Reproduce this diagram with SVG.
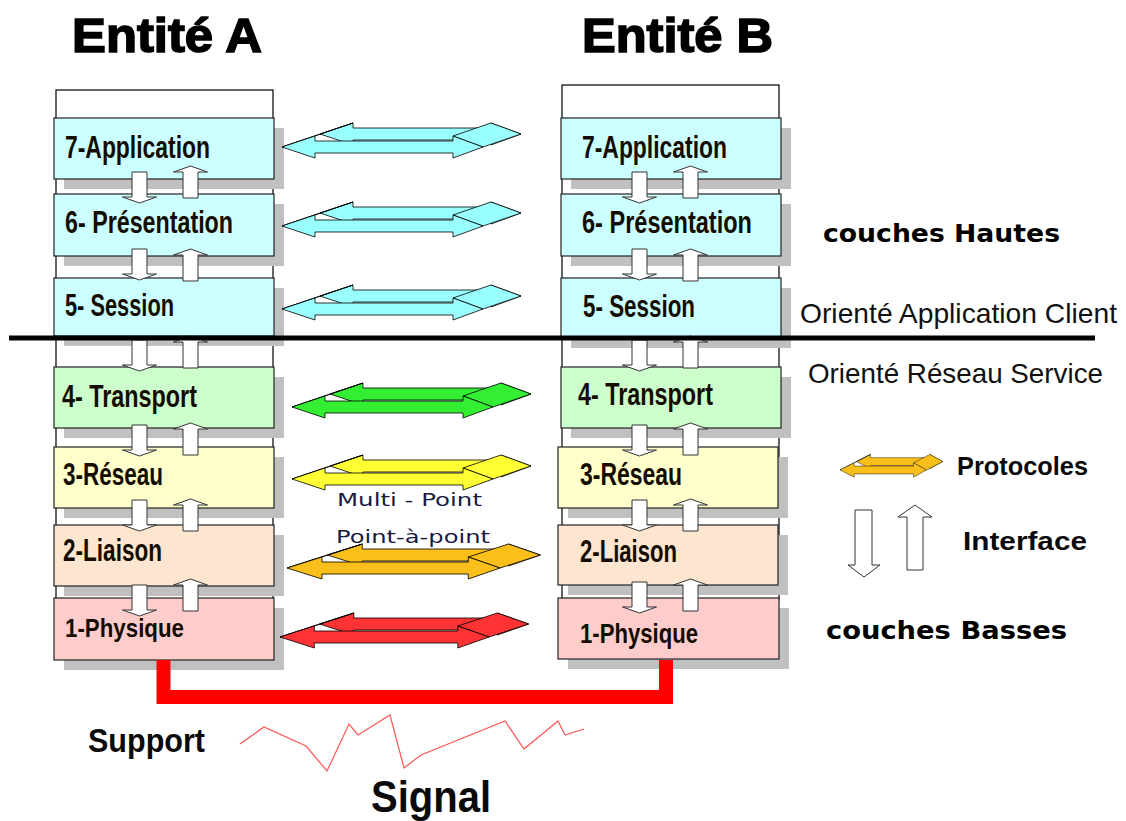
<svg xmlns="http://www.w3.org/2000/svg" xmlns:xlink="http://www.w3.org/1999/xlink" width="1126" height="821" viewBox="0 0 1126 821">
<style>
.frame{fill:#fff;stroke:#000;stroke-width:1.2}
.shadow{fill:#c0c0c0}
.box{stroke:#222;stroke-width:1.2}
.lbl{font-family:"Liberation Sans",Arial,sans-serif;font-weight:bold;font-size:31px;fill:#140c00}
.title{font-family:"Liberation Sans",Arial,sans-serif;font-weight:bold;font-size:48px;fill:#000;stroke:#000;stroke-width:1.6}
.bigb{font-family:"DejaVu Sans",Verdana,sans-serif;font-weight:bold;font-size:25px;fill:#000}
.medb{font-family:"Liberation Sans",Arial,sans-serif;font-weight:bold;font-size:26px;fill:#0a0a0a}
.reg{font-family:"Liberation Sans",Arial,sans-serif;font-size:28px;fill:#111}
.small{font-family:"DejaVu Sans",Verdana,sans-serif;font-size:17px;fill:#1a1a40}
.iface{fill:#fff;stroke:#333;stroke-width:1}
</style>
<defs>
<g id="parr" stroke="#000" stroke-width="0.8" stroke-linejoin="round">
<polygon points="38,-13 71,-24 71,-19 209,-19 209,-24 239,-13 209,-2 209,-7 71,-7 71,-2"/>
<polygon points="0,0 38,-13 71,-24 33,-11"/>
<polygon points="171,-11 209,-24 239,-13 201,0"/>
<polygon points="0,0 33,-11 33,-6 171,-6 171,-11 201,0 171,11 171,6 33,6 33,11"/>
</g>
<path id="down" class="iface" d="M-7.5,0 H7.5 V25 H17 L0,31 L-17,25 H-7.5 Z"/>
<path id="up" class="iface" d="M0,0 L17,6 H7.5 V32 H-7.5 V6 H-17 Z"/>
</defs>

<rect width="1126" height="821" fill="#fff"/>

<g id="title-a"><text class="title" x="72" y="52" textLength="190" lengthAdjust="spacingAndGlyphs">Entité A</text></g>
<g id="title-b"><text class="title" x="582" y="52" textLength="191" lengthAdjust="spacingAndGlyphs">Entité B</text></g>

<g id="stack-a">
<rect class="frame" x="56" y="90" width="217" height="510"/>
<g id="a7"><rect class="shadow" x="64" y="128" width="220" height="61"/><rect class="box" x="54" y="118" width="220" height="61" fill="#ccffff"/><text class="lbl" x="65" y="158" textLength="145" lengthAdjust="spacingAndGlyphs">7-Application</text></g>
<g id="a6"><rect class="shadow" x="64" y="204" width="220" height="62"/><rect class="box" x="54" y="194" width="220" height="62" fill="#ccffff"/><text class="lbl" x="65" y="233" textLength="168" lengthAdjust="spacingAndGlyphs">6- Présentation</text></g>
<g id="a5"><rect class="shadow" x="64" y="288" width="220" height="58"/><rect class="box" x="54" y="278" width="220" height="58" fill="#ccffff"/><text class="lbl" x="65" y="316" textLength="109" lengthAdjust="spacingAndGlyphs">5- Session</text></g>
<g id="a4"><rect class="shadow" x="64" y="377" width="220" height="61"/><rect class="box" x="54" y="367" width="220" height="61" fill="#ccffcc"/><text class="lbl" x="62" y="407" textLength="135" lengthAdjust="spacingAndGlyphs">4- Transport</text></g>
<g id="a3"><rect class="shadow" x="64" y="457" width="220" height="61"/><rect class="box" x="54" y="447" width="220" height="61" fill="#ffffcc"/><text class="lbl" x="63" y="485" textLength="100" lengthAdjust="spacingAndGlyphs">3-Réseau</text></g>
<g id="a2"><rect class="shadow" x="64" y="535" width="220" height="61"/><rect class="box" x="54" y="525" width="220" height="61" fill="#fde5cf"/><text class="lbl" x="63" y="561" textLength="99" lengthAdjust="spacingAndGlyphs">2-Liaison</text></g>
<g id="a1"><rect class="shadow" x="64" y="608" width="220" height="62"/><rect class="box" x="54" y="598" width="220" height="62" fill="#ffcccc"/><text class="lbl" x="65" y="637" style="font-size:26px" textLength="119" lengthAdjust="spacingAndGlyphs">1-Physique</text></g>
</g>

<g id="stack-b">
<rect class="frame" x="562" y="85" width="217" height="515"/>
<g id="b7"><rect class="shadow" x="571" y="128" width="220" height="61"/><rect class="box" x="561" y="118" width="220" height="61" fill="#ccffff"/><text class="lbl" x="582" y="158" textLength="145" lengthAdjust="spacingAndGlyphs">7-Application</text></g>
<g id="b6"><rect class="shadow" x="571" y="204" width="220" height="62"/><rect class="box" x="561" y="194" width="220" height="62" fill="#ccffff"/><text class="lbl" x="582" y="233" textLength="170" lengthAdjust="spacingAndGlyphs">6- Présentation</text></g>
<g id="b5"><rect class="shadow" x="571" y="288" width="220" height="60"/><rect class="box" x="561" y="278" width="220" height="60" fill="#ccffff"/><text class="lbl" x="583" y="317" textLength="112" lengthAdjust="spacingAndGlyphs">5- Session</text></g>
<g id="b4"><rect class="shadow" x="571" y="377" width="220" height="61"/><rect class="box" x="561" y="367" width="220" height="61" fill="#ccffcc"/><text class="lbl" x="578" y="405" textLength="135" lengthAdjust="spacingAndGlyphs">4- Transport</text></g>
<g id="b3"><rect class="shadow" x="568" y="457" width="220" height="61"/><rect class="box" x="558" y="447" width="220" height="61" fill="#ffffcc"/><text class="lbl" x="580" y="485" textLength="102" lengthAdjust="spacingAndGlyphs">3-Réseau</text></g>
<g id="b2"><rect class="shadow" x="568" y="535" width="220" height="60"/><rect class="box" x="558" y="525" width="220" height="60" fill="#fde5cf"/><text class="lbl" x="580" y="562" textLength="97" lengthAdjust="spacingAndGlyphs">2-Liaison</text></g>
<g id="b1"><rect class="shadow" x="568" y="608" width="221" height="61"/><rect class="box" x="558" y="598" width="221" height="61" fill="#ffcccc"/><text class="lbl" x="580" y="643" style="font-size:27px" textLength="118" lengthAdjust="spacingAndGlyphs">1-Physique</text></g>
</g>

<g id="connectors">
<g id="interfaces-a">
<use xlink:href="#down" x="139.5" y="172"/><use xlink:href="#up" x="190.5" y="166"/>
<use xlink:href="#down" x="139.5" y="249"/><use xlink:href="#up" x="190.5" y="249"/>
<use xlink:href="#down" x="139.5" y="340"/><use xlink:href="#up" x="190.5" y="336"/>
<use xlink:href="#down" x="139.5" y="425"/><use xlink:href="#up" x="190.5" y="423"/>
<use xlink:href="#down" x="139.5" y="500"/><use xlink:href="#up" x="190.5" y="499"/>
<use xlink:href="#down" x="139.5" y="585"/><use xlink:href="#up" x="190.5" y="579"/>
</g>
<g id="interfaces-b">
<use xlink:href="#down" x="639.5" y="172"/><use xlink:href="#up" x="690.5" y="166"/>
<use xlink:href="#down" x="639.5" y="249"/><use xlink:href="#up" x="690.5" y="249"/>
<use xlink:href="#down" x="639.5" y="340"/><use xlink:href="#up" x="690.5" y="336"/>
<use xlink:href="#down" x="639.5" y="425"/><use xlink:href="#up" x="690.5" y="423"/>
<use xlink:href="#down" x="639.5" y="500"/><use xlink:href="#up" x="690.5" y="499"/>
<use xlink:href="#down" x="639.5" y="582"/><use xlink:href="#up" x="690.5" y="579"/>
</g>
<g id="protocols">
<use xlink:href="#parr" transform="translate(282,147)" fill="#99ffff"/>
<use xlink:href="#parr" transform="translate(282,226)" fill="#99ffff"/>
<use xlink:href="#parr" transform="translate(282,309)" fill="#99ffff"/>
<use xlink:href="#parr" transform="translate(292,407)" fill="#33ee33"/>
<use xlink:href="#parr" transform="translate(292,479)" fill="#ffff33"/>
<use xlink:href="#parr" transform="translate(287,568) scale(1.06,1)" fill="#fbbf1c"/>
<use xlink:href="#parr" transform="translate(280,637) scale(1.04,1)" fill="#ff3333"/>
</g>
<path id="support" d="M163.5,660 V697 H666 V660" fill="none" stroke="#ff0000" stroke-width="14"/>
<polyline id="signal" points="240,744 264,727 306,746 327,771 349,724 358,735 390,715 404,768 421,755 505,721 524,749 558,721 565,735 584,729" fill="none" stroke="#ff5555" stroke-width="1.2"/>
</g>

<line id="separator" x1="9" y1="338" x2="1095" y2="338" stroke="#000" stroke-width="5"/>

<g id="labels">
<text class="small" x="337" y="506" textLength="145" lengthAdjust="spacingAndGlyphs">Multi - Point</text>
<text class="small" x="336" y="543" textLength="154" lengthAdjust="spacingAndGlyphs">Point-à-point</text>
<text class="bigb" x="823" y="242" textLength="237" lengthAdjust="spacingAndGlyphs">couches Hautes</text>
<text class="reg" x="800" y="323" textLength="317" lengthAdjust="spacingAndGlyphs">Orienté Application Client</text>
<text class="reg" x="808" y="383" textLength="295" lengthAdjust="spacingAndGlyphs">Orienté Réseau Service</text>
<text class="bigb" x="826" y="639" textLength="241" lengthAdjust="spacingAndGlyphs">couches Basses</text>
<text class="medb" x="88" y="752" style="font-size:33px" textLength="117" lengthAdjust="spacingAndGlyphs">Support</text>
<text class="medb" x="371" y="812" style="font-size:45px" textLength="120" lengthAdjust="spacingAndGlyphs">Signal</text>
</g>

<g id="legend">
<use xlink:href="#parr" transform="translate(840,470) scale(0.43,0.65)" fill="#fbbf1c"/>
<text class="medb" x="957" y="475" textLength="131" lengthAdjust="spacingAndGlyphs">Protocoles</text>
<path class="iface" d="M855,510 H872 V565 H880 L864,577 L848,565 H855 Z"/>
<path class="iface" d="M915,505 L932,517 H923 V570 H907 V517 H898 Z"/>
<text class="medb" x="963" y="550" textLength="124" lengthAdjust="spacingAndGlyphs">Interface</text>
</g>
</svg>
